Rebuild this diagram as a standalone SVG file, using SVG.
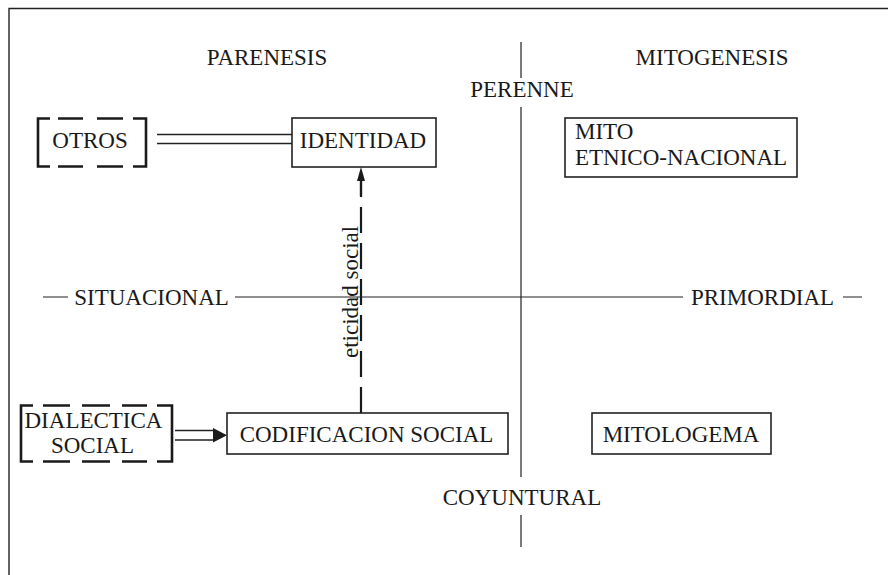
<svg xmlns="http://www.w3.org/2000/svg" width="888" height="575" viewBox="0 0 888 575">
<defs>
<style>
text{font-size:23px;fill:#1a1a1a}
.m{text-anchor:middle}
.box{fill:none;stroke:#222;stroke-width:1.6}
.br{fill:none;stroke:#1a1a1a;stroke-width:2.6}
.ax{fill:none;stroke:#222;stroke-width:1.2}
.ln{fill:none;stroke:#222;stroke-width:1.4}
</style>
</defs>
<rect width="888" height="575" fill="#fff"/>
<g font-family="'Liberation Serif', 'DejaVu Serif', serif">
<g id="frame">
<path class="ln" d="M9,575 V8.5 H888"/>
</g>
<g id="axes">
<path class="ax" d="M521,42 V78 M521,107 V477 M521,515 V547"/>
<path class="ax" d="M43,297 H68 M235,297 H683 M843,297 H862"/>
<text class="m" x="267" y="65">PARENESIS</text>
<text class="m" x="712" y="65">MITOGENESIS</text>
<text class="m" x="522" y="97">PERENNE</text>
<text class="m" x="522" y="505">COYUNTURAL</text>
<text class="m" x="151.5" y="305">SITUACIONAL</text>
<text class="m" x="762.5" y="305">PRIMORDIAL</text>
</g>
<g id="otros">
<path class="br" d="M50,118.5 H38 V166.5 H50 M133,118.5 H146 V166.5 H133 M58,118.5 H83 M97,118.5 H123 M58,166.5 H83 M97,166.5 H123"/>
<text class="m" x="90" y="148">OTROS</text>
</g>
<g id="identidad">
<rect class="box" x="292" y="118" width="144" height="49"/>
<text class="m" x="363" y="148">IDENTIDAD</text>
</g>
<g id="mito">
<rect class="box" x="565" y="118" width="232" height="59"/>
<text x="575" y="139">MITO</text>
<text x="575" y="165">ETNICO-NACIONAL</text>
</g>
<g id="dialectica">
<path class="br" d="M33,405.5 H21 V461.5 H33 M157,405.5 H172 V461.5 H157 M43,405.5 H70 M82,405.5 H110 M122,405.5 H147 M43,461.5 H70 M82,461.5 H110 M122,461.5 H147"/>
<text class="m" x="93.5" y="428">DIALECTICA</text>
<text class="m" x="92.5" y="453">SOCIAL</text>
</g>
<g id="codificacion">
<rect class="box" x="227" y="413" width="281" height="41"/>
<text class="m" x="366.5" y="442">CODIFICACION SOCIAL</text>
</g>
<g id="mitologema">
<rect class="box" x="592" y="413" width="179" height="41"/>
<text class="m" x="681" y="442">MITOLOGEMA</text>
</g>
<g id="connectors">
<path class="ln" d="M157,134.5 H292 M157,143.5 H292"/>
<path class="ln" d="M175,430.5 H214 M175,440 H214"/>
<path d="M213,428 L227,435.2 L213,442.5 Z" fill="#1a1a1a"/>
<path d="M361,413 V180" fill="none" stroke="#1a1a1a" stroke-width="2.2" stroke-dasharray="26 10"/>
<path d="M361,196 V180" fill="none" stroke="#1a1a1a" stroke-width="2.2"/>
<path d="M357,181 L361,167 L365,181 Z" fill="#1a1a1a"/>
<text transform="translate(358,358) rotate(-90)">eticidad social</text>
</g>
</g>
</svg>
